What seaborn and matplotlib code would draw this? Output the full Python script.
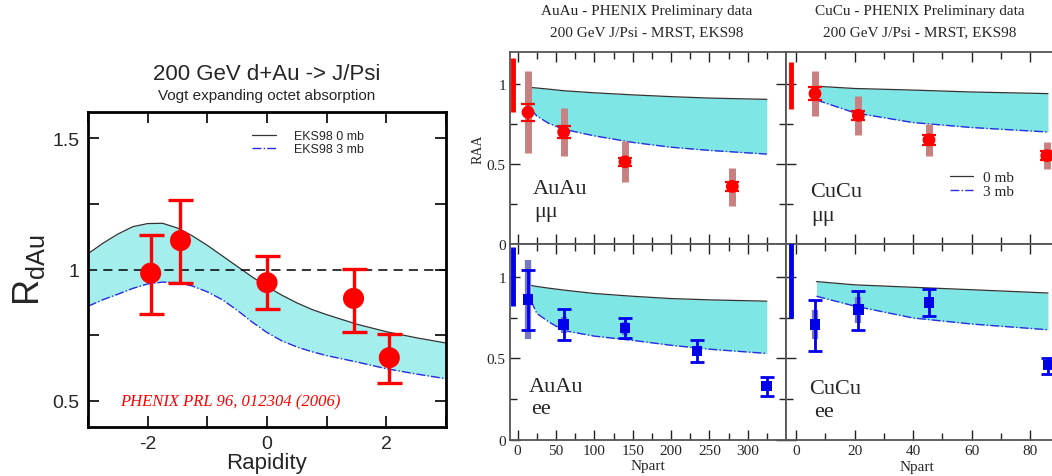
import numpy as np
import pandas as pd
import matplotlib
matplotlib.use('Agg')
import matplotlib.pyplot as plt
import seaborn as sns
from matplotlib.ticker import MultipleLocator, FixedLocator
from matplotlib.lines import Line2D

sns.set_style('ticks')
plt.rcParams['font.family'] = ['Liberation Sans', 'DejaVu Sans']
plt.rcParams['mathtext.default'] = 'regular'
plt.rcParams['axes.unicode_minus'] = False

SERIF = ['Liberation Serif', 'DejaVu Serif']

# ---------------- Left panel: d+Au vs rapidity ----------------
dau_y = [-1.95, -1.45, 0.0, 1.45, 2.05]
dau_r = [0.986, 1.11, 0.95, 0.89, 0.664]
dau_lo = [0.83, 0.947, 0.85, 0.763, 0.568]
dau_hi = [1.13, 1.265, 1.05, 1.003, 0.755]

rap_grid = [-3.0, -2.75, -2.5, -2.25, -2.0, -1.75, -1.5, -1.25, -1.0, -0.75,
            -0.5, -0.25, 0.0, 0.25, 0.5, 0.75, 1.0, 1.5, 2.0, 2.5, 3.0]
eks_0mb = [1.06, 1.10, 1.135, 1.163, 1.175, 1.176, 1.158, 1.128, 1.092, 1.052,
           1.012, 0.972, 0.935, 0.902, 0.873, 0.848, 0.828, 0.792, 0.763, 0.740, 0.720]
eks_3mb = [0.86, 0.885, 0.906, 0.928, 0.945, 0.952, 0.950, 0.937, 0.915, 0.885,
           0.845, 0.800, 0.760, 0.728, 0.705, 0.687, 0.672, 0.648, 0.622, 0.602, 0.584]

# ---------------- Right panels ----------------
# AuAu mu mu
auau_mm_np = [13.5, 60, 140, 280]
auau_mm_r = [0.823, 0.70, 0.514, 0.36]
auau_mm_stat = [0.055, 0.035, 0.025, 0.03]
auau_mm_syslo = [0.57, 0.552, 0.386, 0.24]
auau_mm_syshi = [1.08, 0.853, 0.645, 0.473]
auau_mm_band_np = [17.5, 25, 40, 60, 100, 150, 200, 250, 325]
auau_mm_0mb = [0.978, 0.975, 0.968, 0.958, 0.945, 0.932, 0.921, 0.912, 0.904]
auau_mm_3mb = [0.84, 0.80, 0.755, 0.717, 0.676, 0.635, 0.605, 0.585, 0.562]

# CuCu mu mu
cucu_mm_np = [6.5, 21.3, 45.4, 85.6]
cucu_mm_r = [0.94, 0.804, 0.651, 0.552]
cucu_mm_stat = [0.04, 0.03, 0.03, 0.03]
cucu_mm_syslo = [0.80, 0.68, 0.552, 0.469]
cucu_mm_syshi = [1.08, 0.924, 0.748, 0.635]
cucu_mm_band_np = [7, 20, 40, 60, 86]
cucu_mm_0mb = [0.986, 0.972, 0.962, 0.950, 0.940]
cucu_mm_3mb = [0.900, 0.820, 0.759, 0.728, 0.700]

# AuAu ee
auau_ee_np = [13.5, 60, 140, 234, 325]
auau_ee_r = [0.86, 0.706, 0.685, 0.545, 0.33]
auau_ee_lo = [0.674, 0.61, 0.623, 0.475, 0.27]
auau_ee_hi = [1.04, 0.80, 0.747, 0.61, 0.385]
auau_ee_sys = [0.24, 0.05, 0.04, 0.03, 0.02]
auau_ee_band_np = [17.5, 25, 40, 60, 100, 150, 200, 250, 325]
auau_ee_0mb = [0.946, 0.940, 0.930, 0.918, 0.897, 0.880, 0.866, 0.858, 0.850]
auau_ee_3mb = [0.85, 0.775, 0.725, 0.670, 0.636, 0.610, 0.580, 0.556, 0.530]

# CuCu ee
cucu_ee_np = [6.5, 21.3, 45.4, 86]
cucu_ee_r = [0.706, 0.798, 0.843, 0.459]
cucu_ee_lo = [0.545, 0.676, 0.757, 0.405]
cucu_ee_hi = [0.86, 0.915, 0.925, 0.503]
cucu_ee_sys = [0.09, 0.08, 0.03, 0.02]
cucu_ee_band_np = [7, 20, 40, 60, 86]
cucu_ee_0mb = [0.970, 0.950, 0.935, 0.920, 0.900]
cucu_ee_3mb = [0.880, 0.820, 0.747, 0.710, 0.675]

# global normalisation uncertainties
auau_glob_x = -6.0
cucu_glob_x = -1.8
auau_mm_glob = [0.823, 1.165]
cucu_mm_glob = [0.846, 1.14]
auau_ee_glob = [0.82, 1.18]
cucu_ee_glob = [0.747, 1.25]

# tick labels
auau_xticks = [0, 50, 100, 150, 200, 250, 300]
cucu_xticks = [0, 20, 40, 60, 80]
raa_yticks = [0, 0.5, 1.0]
raa_yticklabels = ['0', '0.5', '1']
rdau_yticks = [0.5, 1.0, 1.5]
rdau_yticklabels = ['0.5', '1', '1.5']

W, H = 1052, 477
fig = plt.figure(figsize=(W / 100, H / 100), dpi=100)

def fx(px):
    return px / W

def fy(py):
    return 1 - py / H

BAND_L = '#a4eeee'
BAND_R = '#7fe6e6'
BLUE_LINE = '#2a2ae0'
RED = '#ff0000'
BLUE = '#0000ee'

# ================= Left panel =================
axL = fig.add_axes([fx(88), fy(428), fx(446 - 88), (428 - 113) / H])
axL.fill_between(rap_grid, eks_3mb, eks_0mb, color=BAND_L, lw=0, zorder=1)
sns.lineplot(x=rap_grid, y=eks_0mb, ax=axL, color='#333333', lw=0.9, errorbar=None, zorder=2)
sns.lineplot(x=rap_grid, y=eks_3mb, ax=axL, color=BLUE_LINE, lw=1.0, linestyle='-.',
             errorbar=None, zorder=2)
axL.axhline(1.0, color='black', lw=1.1, ls=(0, (6, 4)), zorder=2)
dau_r_a = np.array(dau_r)
axL.errorbar(dau_y, dau_r, yerr=[dau_r_a - np.array(dau_lo), np.array(dau_hi) - dau_r_a],
             fmt='none', ecolor=RED, elinewidth=2.4, capsize=9, capthick=2.4, zorder=3)
sns.scatterplot(x=dau_y, y=dau_r, ax=axL, color=RED, s=230, marker='o',
                edgecolor='none', zorder=4)
axL.set_xlim(-3, 3)
axL.set_ylim(0.4, 1.6)
axL.xaxis.set_major_locator(MultipleLocator(2))
axL.xaxis.set_minor_locator(MultipleLocator(1))
axL.yaxis.set_minor_locator(MultipleLocator(0.25))
axL.set_yticks(rdau_yticks)
axL.set_yticklabels(rdau_yticklabels)
axL.tick_params(which='both', direction='in', top=True, right=True, color='black')
axL.tick_params(which='major', length=8, width=1.2, labelsize=14, pad=6)
axL.tick_params(which='minor', length=8, width=1.2)
for s in axL.spines.values():
    s.set_linewidth(2.0)
    s.set_color('black')
axL.set_xlabel('Rapidity', fontsize=16, labelpad=0)
axL.set_ylabel(r'$R_{dAu}$', fontsize=26, labelpad=4)
axL.legend(handles=[Line2D([], [], color='#333333', lw=0.9),
                    Line2D([], [], color=BLUE_LINE, lw=1.0, ls='-.')],
           labels=['EKS98 0 mb', 'EKS98 3 mb'], fontsize=9, frameon=False,
           loc='upper left', bbox_to_anchor=(0.435, 0.97), handlelength=1.9,
           handletextpad=1.4, labelspacing=0.1, borderpad=0.2)
axL.text(0.09, 0.08, 'PHENIX PRL 96, 012304 (2006)', transform=axL.transAxes,
         color=RED, fontsize=12, style='italic', family=SERIF, va='center', ha='left')
fig.text(fx(267), fy(75), '200 GeV d+Au -> J/Psi', fontsize=16, ha='center', va='center')
fig.text(fx(267), fy(96), 'Vogt expanding octet absorption', fontsize=11,
         ha='center', va='center')

# ================= Right panels =================
top_b, top_h = fy(245), (245 - 53) / H
bot_b, bot_h = fy(441), (441 - 245) / H
au_l, au_w = fx(510), fx(786 - 510)
cu_l, cu_w = fx(786), fx(303)

axA = fig.add_axes([au_l, top_b, au_w, top_h])
axB = fig.add_axes([cu_l, top_b, cu_w, top_h])
axC = fig.add_axes([au_l, bot_b, au_w, bot_h])
axD = fig.add_axes([cu_l, bot_b, cu_w, bot_h])

def style_right(ax, is_au, show_x, show_y):
    ax.set_ylim(0, 1.2)
    if is_au:
        ax.set_xlim(-10, 350)
        ax.xaxis.set_major_locator(FixedLocator(auau_xticks))
        ax.xaxis.set_minor_locator(MultipleLocator(25))
    else:
        ax.set_xlim(-3.4, 100)
        ax.xaxis.set_major_locator(FixedLocator(cucu_xticks))
        ax.xaxis.set_minor_locator(MultipleLocator(10))
    ax.yaxis.set_minor_locator(MultipleLocator(0.25))
    ax.set_yticks(raa_yticks)
    ax.set_yticklabels(raa_yticklabels)
    ax.tick_params(which='both', direction='in', top=True, right=True,
                   color='#222222', labelsize=11, labelfontfamily='Liberation Serif')
    ax.tick_params(which='major', length=7, width=1.0, pad=3)
    ax.tick_params(which='minor', length=5, width=1.0)
    ax.tick_params(labelbottom=show_x, labelleft=show_y)
    for s in ax.spines.values():
        s.set_linewidth(1.3)
        s.set_color('#555555')

def draw_band(ax, npx, up, lo):
    ax.fill_between(npx, lo, up, color=BAND_R, lw=0, zorder=1)
    sns.lineplot(x=npx, y=up, ax=ax, color='#333333', lw=0.9, errorbar=None, zorder=2)
    sns.lineplot(x=npx, y=lo, ax=ax, color=BLUE_LINE, lw=1.0, linestyle='-.',
                 errorbar=None, zorder=2)

# AuAu mumu
draw_band(axA, auau_mm_band_np, auau_mm_0mb, auau_mm_3mb)
axA.vlines(auau_mm_np, auau_mm_syslo, auau_mm_syshi, color='#c98080', lw=5, zorder=3)
axA.errorbar(auau_mm_np, auau_mm_r, yerr=auau_mm_stat, fmt='none', ecolor=RED,
             elinewidth=1.6, capsize=5, capthick=1.6, zorder=4)
sns.scatterplot(x=auau_mm_np, y=auau_mm_r, ax=axA, color=RED, s=85, marker='o',
                edgecolor='none', zorder=5)
axA.vlines([auau_glob_x], [auau_mm_glob[0]], [auau_mm_glob[1]], color=RED, lw=3.5, zorder=4)

# CuCu mumu
draw_band(axB, cucu_mm_band_np, cucu_mm_0mb, cucu_mm_3mb)
axB.vlines(cucu_mm_np, cucu_mm_syslo, cucu_mm_syshi, color='#c98080', lw=5, zorder=3)
axB.errorbar(cucu_mm_np, cucu_mm_r, yerr=cucu_mm_stat, fmt='none', ecolor=RED,
             elinewidth=1.6, capsize=5, capthick=1.6, zorder=4)
sns.scatterplot(x=cucu_mm_np, y=cucu_mm_r, ax=axB, color=RED, s=85, marker='o',
                edgecolor='none', zorder=5)
axB.vlines([cucu_glob_x], [cucu_mm_glob[0]], [cucu_mm_glob[1]], color=RED, lw=3.5, zorder=4)
axB.legend(handles=[Line2D([], [], color='#333333', lw=0.9),
                    Line2D([], [], color=BLUE_LINE, lw=1.0, ls='-.')],
           labels=['0 mb', '3 mb'], frameon=False, loc='upper left',
           bbox_to_anchor=(0.51, 0.43), handlelength=1.55, handletextpad=0.6,
           labelspacing=0.0, borderpad=0.1, prop={'family': SERIF, 'size': 11})

# AuAu ee
draw_band(axC, auau_ee_band_np, auau_ee_0mb, auau_ee_3mb)
r = np.array(auau_ee_r); sy = np.array(auau_ee_sys)
axC.vlines(auau_ee_np, r - sy, r + sy, color='#7878c0', lw=4.5, zorder=3)
axC.errorbar(auau_ee_np, auau_ee_r, yerr=[r - np.array(auau_ee_lo), np.array(auau_ee_hi) - r],
             fmt='none', ecolor=BLUE, elinewidth=2.0, capsize=5, capthick=2.0, zorder=4)
sns.scatterplot(x=auau_ee_np, y=auau_ee_r, ax=axC, color=BLUE, s=60, marker='s',
                edgecolor='none', zorder=5)
axC.vlines([auau_glob_x], [auau_ee_glob[0]], [auau_ee_glob[1]], color=BLUE, lw=3.5, zorder=4)

# CuCu ee
draw_band(axD, cucu_ee_band_np, cucu_ee_0mb, cucu_ee_3mb)
r = np.array(cucu_ee_r); sy = np.array(cucu_ee_sys)
axD.vlines(cucu_ee_np, r - sy, r + sy, color='#7878c0', lw=4.5, zorder=3)
axD.errorbar(cucu_ee_np, cucu_ee_r, yerr=[r - np.array(cucu_ee_lo), np.array(cucu_ee_hi) - r],
             fmt='none', ecolor=BLUE, elinewidth=2.0, capsize=5, capthick=2.0, zorder=4)
sns.scatterplot(x=cucu_ee_np, y=cucu_ee_r, ax=axD, color=BLUE, s=60, marker='s',
                edgecolor='none', zorder=5)
axD.vlines([cucu_glob_x], [cucu_ee_glob[0]], [cucu_ee_glob[1]], color=BLUE, lw=3.5, zorder=4)

style_right(axA, True, False, True)
style_right(axB, False, False, False)
style_right(axC, True, True, True)
style_right(axD, False, True, False)

axA.set_ylabel('RAA', family=SERIF, fontsize=10, labelpad=2)
axC.set_xlabel('Npart', family=SERIF, fontsize=11, labelpad=1)
axD.set_xlabel('Npart', family=SERIF, fontsize=11, labelpad=1)
axD.xaxis.set_label_coords((917 - 786) / 303, -0.1)

lab_kw = dict(family=SERIF, fontsize=16, ha='left', va='center', zorder=6)
axA.text(20, 0.345, 'AuAu', **lab_kw)
axA.text(21, 0.20, 'μμ', **lab_kw)
axB.text(4.8, 0.326, 'CuCu', **lab_kw)
axB.text(5.2, 0.18, 'μμ', **lab_kw)
axC.text(15, 0.327, 'AuAu', **lab_kw)
axC.text(17, 0.19, 'ee', **lab_kw)
axD.text(4.5, 0.315, 'CuCu', **lab_kw)
axD.text(6.2, 0.174, 'ee', **lab_kw)

title_kw = dict(family=SERIF, fontsize=11, ha='center', va='center')
fig.text(fx(647), fy(12), 'AuAu - PHENIX Preliminary data', **title_kw)
fig.text(fx(647), fy(33), '200 GeV J/Psi - MRST, EKS98', **title_kw)
fig.text(fx(920), fy(12), 'CuCu - PHENIX Preliminary data', **title_kw)
fig.text(fx(920), fy(33), '200 GeV J/Psi - MRST, EKS98', **title_kw)

fig.savefig('out.png', dpi=100)
